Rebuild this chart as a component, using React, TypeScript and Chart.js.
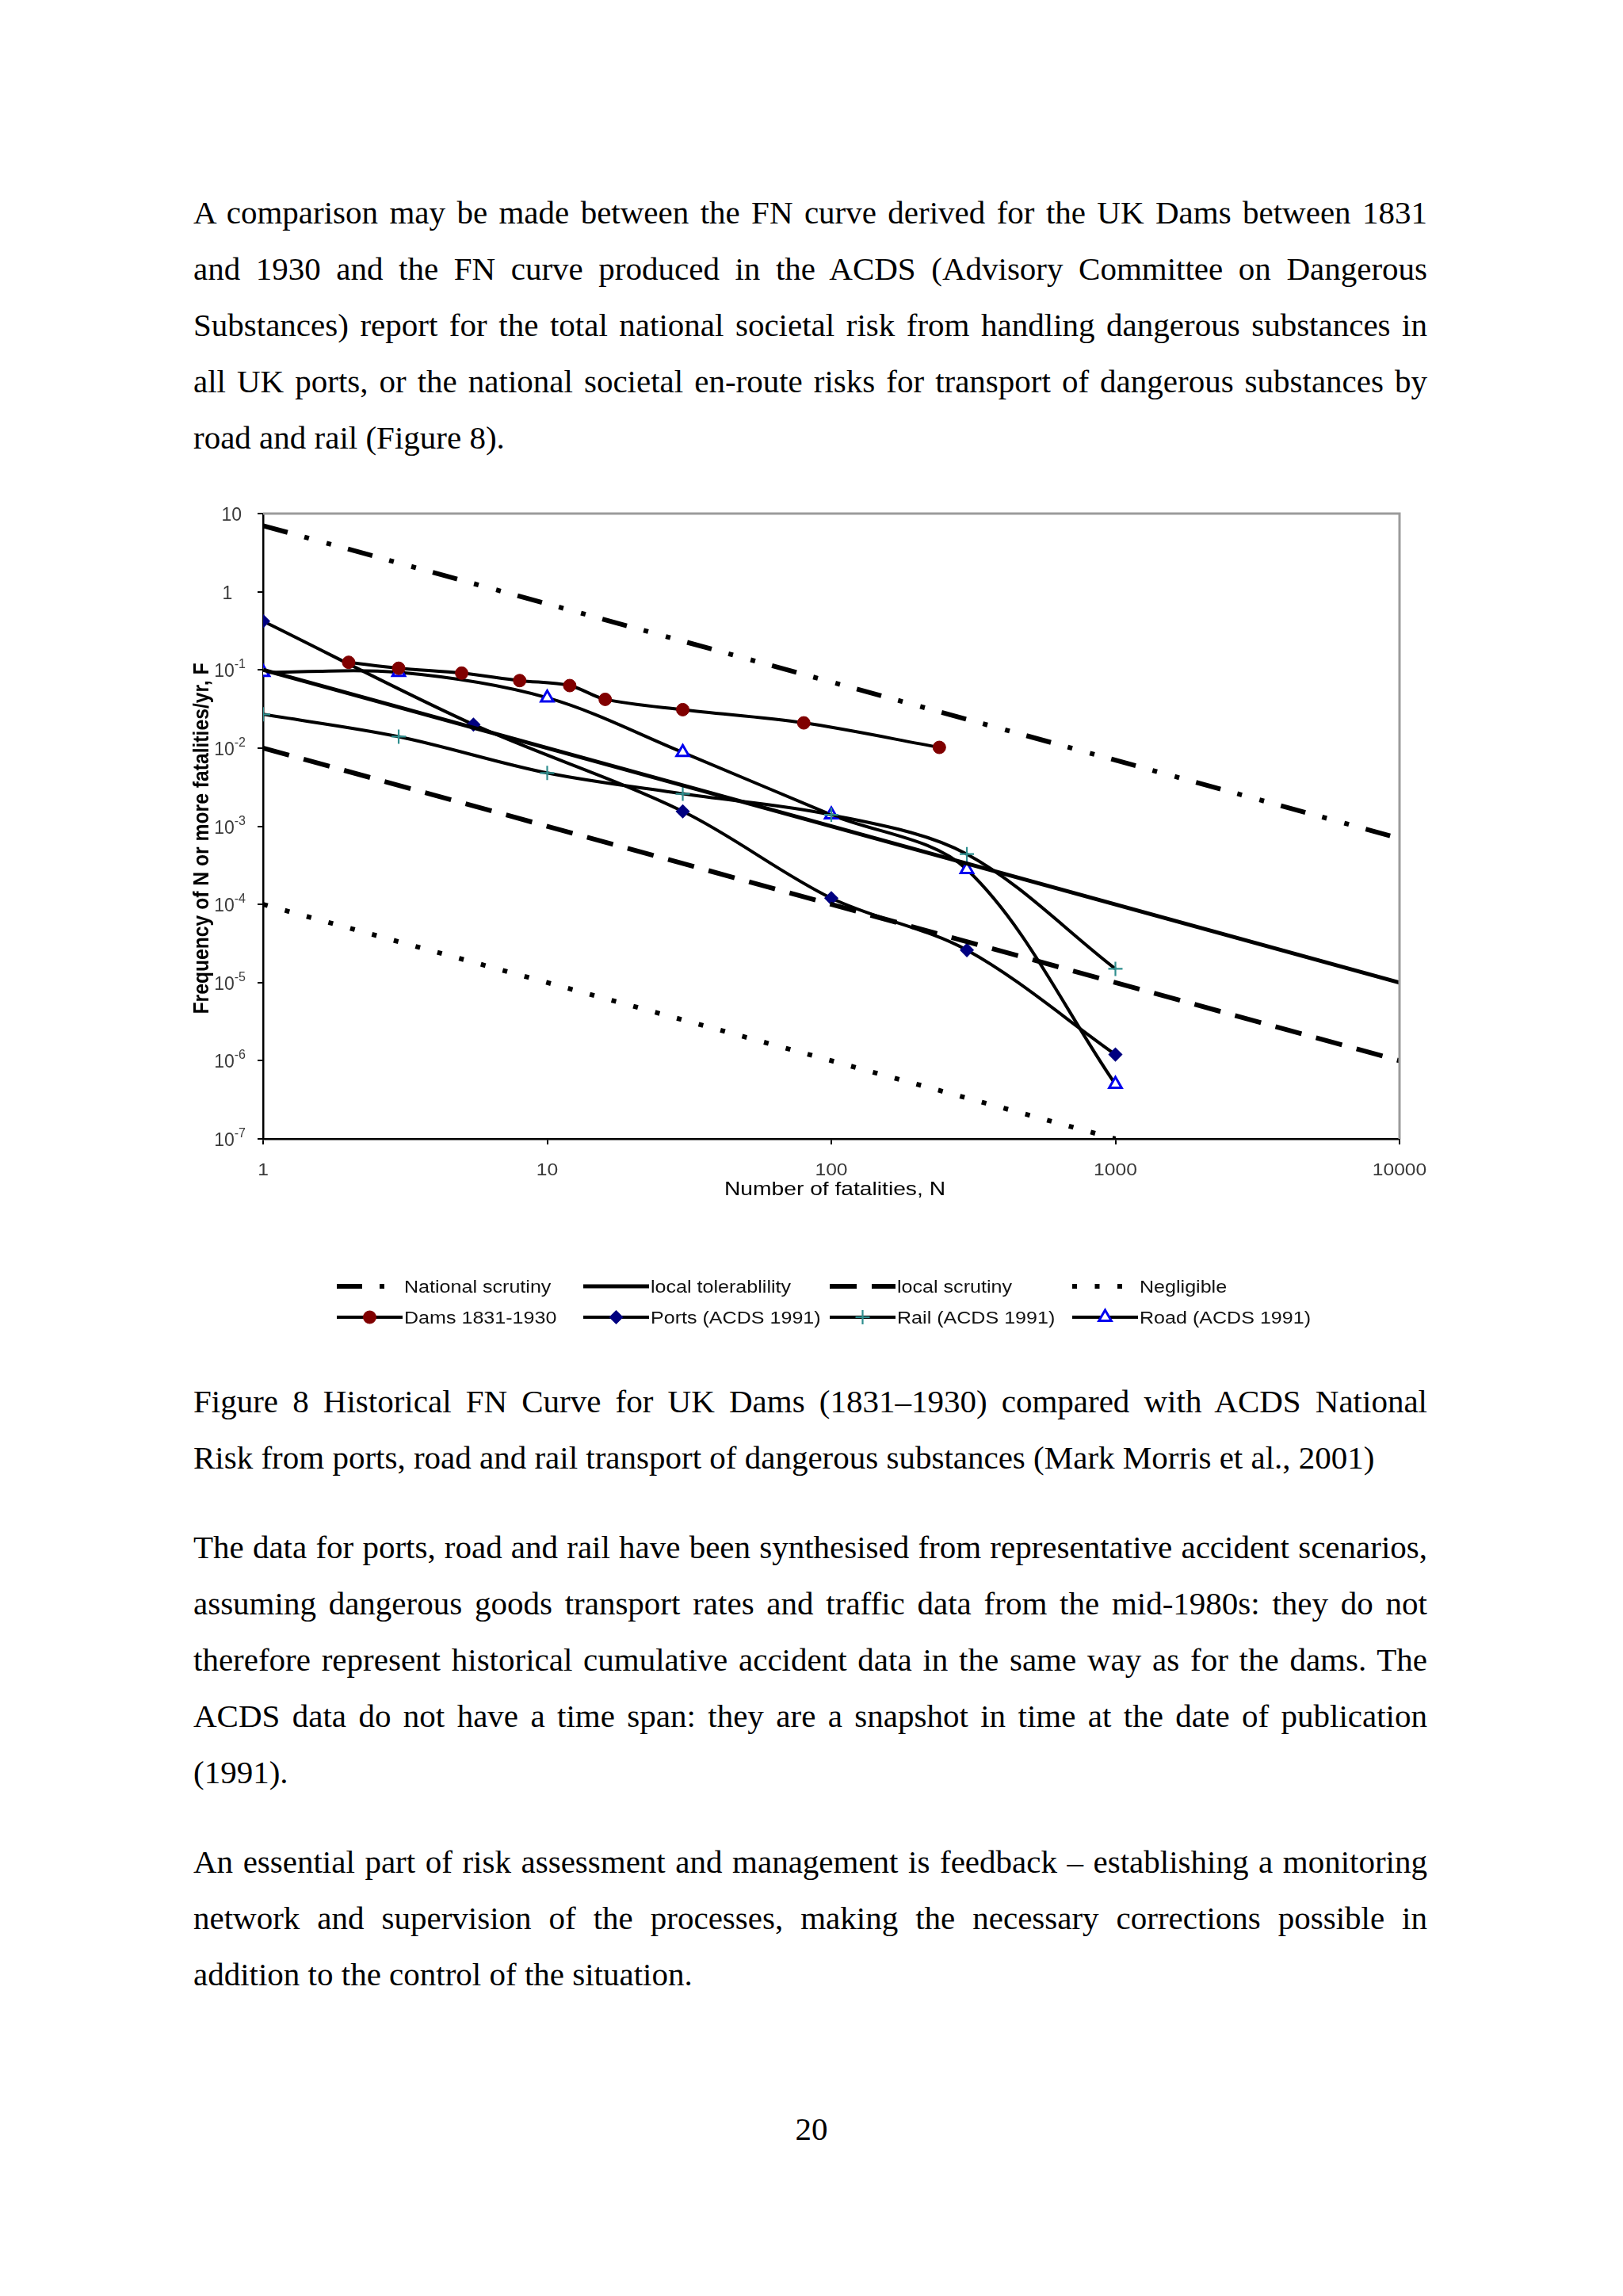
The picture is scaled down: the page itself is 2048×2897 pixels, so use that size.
import React, { useEffect, useRef } from 'react';
import { Chart, registerables } from 'chart.js';

Chart.register(...registerables);

// ---------- data ----------
const referenceN = [1, 10000];
const nationalScrutinyF = [7, 0.0007];
const localTolerabilityF = [0.1, 0.00001];
const localScrutinyF = [0.01, 0.000001];
const negligibleN = [1, 1000];
const negligibleF = [0.0001, 0.0000001];

const damsN = [2, 3, 5, 8, 12, 16, 30, 80, 240];
const damsF = [0.125, 0.105, 0.091, 0.073, 0.063, 0.042, 0.031, 0.021, 0.0102];
const portsN = [1, 5.5, 30, 100, 300, 1000];
const portsF = [0.42, 0.02, 0.00155, 0.00012, 0.000026, 0.0000012];
const railN = [1, 3, 10, 30, 100, 300, 1000];
const railF = [0.027, 0.014, 0.0048, 0.0026, 0.0014, 0.00044, 0.000015];
const roadN = [1, 3, 10, 30, 100, 300, 1000];
const roadF = [0.093, 0.093, 0.044, 0.0088, 0.0014, 0.00028, 0.0000005];

const seriesLabels = [
  'National scrutiny',
  'local tolerablility',
  'local scrutiny',
  'Negligible',
  'Dams 1831-1930',
  'Ports (ACDS 1991)',
  'Rail (ACDS 1991)',
  'Road (ACDS 1991)',
];

const xTickValues = [1, 10, 100, 1000, 10000];
const xTickLabels = ['1', '10', '100', '1000', '10000'];
const yTickExponents = [1, 0, -1, -2, -3, -4, -5, -6, -7];

const xTitle = 'Number of fatalities, N';
const yTitle = 'Frequency of N or more fatalities/yr, F';

// ---------- page text ----------
const para1 = [
  'A comparison may be made between the FN curve derived for the UK Dams between 1831',
  'and 1930 and the FN curve produced in the ACDS (Advisory Committee on Dangerous',
  'Substances) report for the total national societal risk from handling dangerous substances in',
  'all UK ports, or the national societal en-route risks for transport of dangerous substances by',
  'road and rail (Figure 8).',
];
const caption = [
  'Figure 8 Historical FN Curve for UK Dams (1831\u20131930) compared with ACDS National',
  'Risk from ports, road and rail transport of dangerous substances (Mark Morris et al., 2001)',
];
const para2 = [
  'The data for ports, road and rail have been synthesised from representative accident scenarios,',
  'assuming dangerous goods transport rates and traffic data from the mid-1980s: they do not',
  'therefore represent historical cumulative accident data in the same way as for the dams. The',
  'ACDS data do not have a time span: they are a snapshot in time at the date of publication',
  '(1991).',
];
const para3 = [
  'An essential part of risk assessment and management is feedback \u2013 establishing a monitoring',
  'network and supervision of the processes, making the necessary corrections possible in',
  'addition to the control of the situation.',
];
const pageNumber = '20';

const SANS = '"Liberation Sans", Arial, sans-serif';

function pts(n: number[], f: number[]) {
  return n.map((v, i) => ({ x: v, y: f[i] }));
}

function drawMarker(
  ctx: CanvasRenderingContext2D,
  style: string,
  x: number,
  y: number,
  r: number,
  fill: string,
  stroke: string,
  bw: number
) {
  ctx.save();
  ctx.setLineDash([]);
  ctx.lineWidth = bw;
  ctx.fillStyle = fill;
  ctx.strokeStyle = stroke;
  ctx.beginPath();
  if (style === 'circle') {
    ctx.arc(x, y, r, 0, Math.PI * 2);
    ctx.fill();
    ctx.stroke();
  } else if (style === 'rectRot') {
    ctx.moveTo(x, y - r);
    ctx.lineTo(x + r, y);
    ctx.lineTo(x, y + r);
    ctx.lineTo(x - r, y);
    ctx.closePath();
    ctx.fill();
    ctx.stroke();
  } else if (style === 'cross') {
    ctx.moveTo(x - r, y);
    ctx.lineTo(x + r, y);
    ctx.moveTo(x, y - r);
    ctx.lineTo(x, y + r);
    ctx.stroke();
  } else if (style === 'triangle') {
    const h = r * 1.5;
    ctx.moveTo(x, y - r);
    ctx.lineTo(x + r * 0.87, y + h - r);
    ctx.lineTo(x - r * 0.87, y + h - r);
    ctx.closePath();
    ctx.fill();
    ctx.stroke();
  }
  ctx.restore();
}

function drawStretched(
  ctx: CanvasRenderingContext2D,
  text: string,
  x: number,
  y: number,
  font: string,
  align: CanvasTextAlign,
  sx: number
) {
  ctx.save();
  ctx.font = font;
  ctx.textAlign = align;
  ctx.textBaseline = 'alphabetic';
  ctx.translate(x, y);
  ctx.scale(sx, 1);
  ctx.fillText(text, 0, 0);
  ctx.restore();
}

const figurePlugin = {
  id: 'figureDecor',
  afterDraw(chart: any) {
    const { ctx, chartArea: ca, scales } = chart;
    const xs = scales.x;
    const ys = scales.y;
    ctx.save();

    // grey plot-area frame on top and right
    ctx.strokeStyle = '#9b9b9b';
    ctx.lineWidth = 3;
    ctx.setLineDash([]);
    ctx.beginPath();
    ctx.moveTo(ca.left, ca.top);
    ctx.lineTo(ca.right, ca.top);
    ctx.lineTo(ca.right, ca.bottom);
    ctx.stroke();

    // x tick labels
    ctx.fillStyle = '#3a3a3a';
    xTickValues.forEach((v, i) => {
      const px = xs.getPixelForValue(v);
      drawStretched(ctx, xTickLabels[i], px, ca.bottom + 46, '22px ' + SANS, 'center', 1.12);
    });

    // y tick labels with superscripts
    const baseFont = '23px ' + SANS;
    const expFont = '16px ' + SANS;
    yTickExponents.forEach((e) => {
      const py = ys.getPixelForValue(Math.pow(10, e));
      if (e === 1) {
        drawStretched(ctx, '10', 75, py + 9, baseFont, 'right', 1.0);
      } else if (e === 0) {
        drawStretched(ctx, '1', 57, py + 9, baseFont, 'center', 1.0);
      } else {
        ctx.font = baseFont;
        const wb = ctx.measureText('10').width;
        ctx.font = expFont;
        const we = ctx.measureText(String(e)).width;
        const start = 80 - wb - we;
        drawStretched(ctx, '10', start, py + 9, baseFont, 'left', 1.0);
        drawStretched(ctx, String(e), start + wb, py - 2, expFont, 'left', 1.0);
      }
    });

    // axis titles
    ctx.fillStyle = '#000';
    ctx.font = '24px ' + SANS;
    const wx = ctx.measureText(xTitle).width;
    drawStretched(ctx, xTitle, 823.5, ca.bottom + 71, '24px ' + SANS, 'center', 279 / wx);

    ctx.save();
    ctx.font = 'bold 24px ' + SANS;
    const wy = ctx.measureText(yTitle).width;
    ctx.translate(25.6, 438);
    ctx.rotate(-Math.PI / 2);
    ctx.scale(443 / wy, 1.12);
    ctx.textAlign = 'center';
    ctx.textBaseline = 'middle';
    ctx.fillText(yTitle, 0, 0);
    ctx.restore();

    // legend (two rows of four)
    const colX = [195, 506, 817, 1123];
    const rowY = [1003, 1042];
    const sampleLen = 83;
    chart.data.datasets.forEach((ds: any, i: number) => {
      const cx = colX[i % 4];
      const cy = rowY[Math.floor(i / 4)];
      ctx.save();
      ctx.strokeStyle = ds.borderColor;
      ctx.lineWidth = ds.borderWidth;
      ctx.lineCap = 'butt';
      ctx.setLineDash(ds.borderDash || []);
      ctx.beginPath();
      ctx.moveTo(cx, cy);
      ctx.lineTo(cx + sampleLen, cy);
      ctx.stroke();
      ctx.restore();
      if (ds.pointRadius > 0) {
        drawMarker(
          ctx,
          ds.pointStyle,
          cx + sampleLen / 2,
          cy,
          ds.pointRadius,
          ds.pointBackgroundColor,
          ds.pointBorderColor,
          ds.pointBorderWidth
        );
      }
      ctx.fillStyle = '#111';
      drawStretched(ctx, ds.label, cx + sampleLen + 2, cy + 8, '22px ' + SANS, 'left', 1.14);
    });

    ctx.restore();
  },
};

function buildConfig(): any {
  const refLine = (label: string, data: any[], width: number, dash: number[]) => ({
    label,
    data,
    borderColor: '#000',
    borderWidth: width,
    borderDash: dash,
    borderCapStyle: 'butt',
    pointRadius: 0,
    tension: 0,
    fill: false,
  });
  const series = (
    label: string,
    data: any[],
    style: string,
    r: number,
    fillC: string,
    strokeC: string,
    bw: number
  ) => ({
    label,
    data,
    borderColor: '#000',
    borderWidth: 4,
    borderDash: [],
    pointStyle: style,
    pointRadius: r,
    pointBackgroundColor: fillC,
    pointBorderColor: strokeC,
    pointBorderWidth: bw,
    tension: 0.33,
    fill: false,
  });

  return {
    type: 'line',
    data: {
      datasets: [
        refLine(seriesLabels[0], pts(referenceN, nationalScrutinyF), 6, [32, 22, 6, 23, 6, 22]),
        refLine(seriesLabels[1], pts(referenceN, localTolerabilityF), 5, []),
        refLine(seriesLabels[2], pts(referenceN, localScrutinyF), 6, [34, 19]),
        refLine(seriesLabels[3], pts(negligibleN, negligibleF), 6, [6, 22.5]),
        series(seriesLabels[4], pts(damsN, damsF), 'circle', 8, '#800000', '#800000', 1),
        series(seriesLabels[5], pts(portsN, portsF), 'rectRot', 8, '#000080', '#000080', 1.5),
        series(seriesLabels[6], pts(railN, railF), 'cross', 9, '#2f8f8f', '#2f8f8f', 2.2),
        series(seriesLabels[7], pts(roadN, roadF), 'triangle', 9, '#ffffff', '#0000ee', 3),
      ],
    },
    options: {
      responsive: false,
      animation: false,
      devicePixelRatio: 1,
      layout: { padding: { left: 0, top: 28, right: 64, bottom: 0 } },
      plugins: {
        legend: { display: false },
        tooltip: { enabled: false },
        title: { display: false },
      },
      scales: {
        x: {
          type: 'logarithmic',
          min: 1,
          max: 10000,
          position: 'bottom',
          afterBuildTicks: (s: any) => {
            s.ticks = xTickValues.map((v) => ({ value: v }));
          },
          afterFit: (s: any) => {
            s.height = 263;
          },
          ticks: { display: false },
          grid: {
            display: true,
            drawOnChartArea: false,
            drawTicks: true,
            tickLength: 7,
            color: '#000',
            lineWidth: 2,
          },
          border: { display: true, color: '#000', width: 2.5 },
        },
        y: {
          type: 'logarithmic',
          min: 1e-7,
          max: 10,
          position: 'left',
          afterBuildTicks: (s: any) => {
            s.ticks = yTickExponents.map((e) => ({ value: Math.pow(10, e) }));
          },
          afterFit: (s: any) => {
            s.width = 102;
          },
          ticks: { display: false },
          grid: {
            display: true,
            drawOnChartArea: false,
            drawTicks: true,
            tickLength: 7,
            color: '#000',
            lineWidth: 2,
          },
          border: { display: true, color: '#000', width: 2.5 },
        },
      },
    },
    plugins: [figurePlugin],
  };
}

function TextLine({ text, baseline, last }: { text: string; baseline: number; last: boolean }) {
  return (
    <div
      style={{
        position: 'absolute',
        left: 244,
        width: 1557,
        top: baseline - 49,
        height: 71,
        lineHeight: '71px',
        fontSize: 41,
        textAlign: last ? 'left' : 'justify',
        textAlignLast: last ? 'left' : 'justify',
      } as React.CSSProperties}
    >
      {text}
    </div>
  );
}

function Paragraph({ lines, firstBaseline }: { lines: string[]; firstBaseline: number }) {
  return (
    <>
      {lines.map((t, i) => (
        <TextLine key={i} text={t} baseline={firstBaseline + i * 71} last={i === lines.length - 1} />
      ))}
    </>
  );
}

export default function App() {
  const canvasRef = useRef<HTMLCanvasElement | null>(null);

  useEffect(() => {
    if (!canvasRef.current) return;
    const chart = new Chart(canvasRef.current, buildConfig());
    return () => {
      chart.destroy();
    };
  }, []);

  return (
    <div
      style={{
        position: 'absolute',
        left: 0,
        top: 0,
        width: 2048,
        height: 2897,
        background: '#ffffff',
        color: '#000',
        fontFamily: '"Liberation Serif", "Times New Roman", serif',
        overflow: 'hidden',
      }}
    >
      <Paragraph lines={para1} firstBaseline={282} />
      <canvas
        ref={canvasRef}
        width={1600}
        height={1080}
        style={{ position: 'absolute', left: 230, top: 620, width: 1600, height: 1080 }}
      />
      <Paragraph lines={caption} firstBaseline={1782} />
      <Paragraph lines={para2} firstBaseline={1966} />
      <Paragraph lines={para3} firstBaseline={2363} />
      <div
        style={{
          position: 'absolute',
          left: 0,
          width: 2048,
          top: 2700 - 49,
          height: 71,
          lineHeight: '71px',
          fontSize: 41,
          textAlign: 'center',
        }}
      >
        {pageNumber}
      </div>
    </div>
  );
}
